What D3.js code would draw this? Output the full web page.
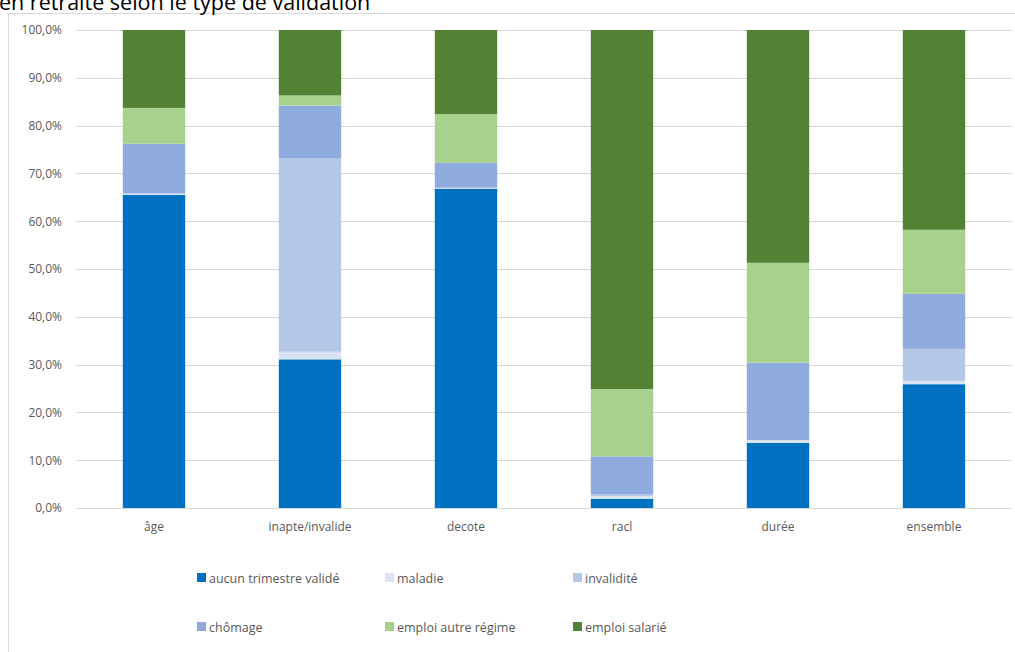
<!DOCTYPE html>
<html lang="fr">
  <head>
    <meta charset="UTF-8" />
    <title>Type de validation</title>
    <script src="https://d3js.org/d3.v7.min.js"></script>
    <style>
      body { margin: 0; background: #fff; }
      svg text { font-family: "Open Sans", "Noto Sans", sans-serif; }
    </style>
  </head>
  <body>
    <svg width="1015" height="652"></svg>
    <script>
      // categories and series (percent of each group)
      const categories = ["âge", "inapte/invalide", "decote", "racl", "durée", "ensemble"];
      const seriesNames = ["aucun trimestre validé", "maladie", "invalidité", "chômage", "emploi autre régime", "emploi salarié"];
      const aucun = [65.5, 31.1, 66.8, 1.9, 13.6, 25.9];
      const maladie = [0.3, 1.6, 0.2, 0.6, 0.6, 0.7];
      const invalidite = [0, 40.5, 0, 0.4, 0, 6.7];
      const chomage = [10.4, 11.0, 5.2, 7.9, 16.2, 11.5];
      const autreRegime = [7.5, 2.1, 10.2, 14.1, 20.9, 13.4];
      const salarie = [16.3, 13.7, 17.6, 75.1, 48.7, 41.8];
      const yTicks = [0, 10, 20, 30, 40, 50, 60, 70, 80, 90, 100];
      const colors = ["#0070C0", "#DAE3F3", "#B4C7E7", "#8FAADC", "#A9D18E", "#548235"];

      const seriesValues = [aucun, maladie, invalidite, chomage, autreRegime, salarie];
      const rows = categories.map((c, i) => {
        const r = { cat: c };
        seriesNames.forEach((s, j) => (r[s] = seriesValues[j][i]));
        return r;
      });

      const svg = d3.select("svg");

      // chart frame (only top and left edges show in the picture)
      svg.append("line").attr("x1", 8.5).attr("x2", 1015).attr("y1", 13.5).attr("y2", 13.5)
        .style("stroke", "#D9D9D9");
      svg.append("line").attr("x1", 8.5).attr("x2", 8.5).attr("y1", 13.5).attr("y2", 652)
        .style("stroke", "#D9D9D9");

      // title, cut off at the top of the picture like in the source
      svg.append("text")
        .attr("x", -1)
        .attr("y", 10)
        .style("font-size", "21.5px")
        .style("fill", "#000")
        .text("en retraite selon le type de validation");

      const x = d3.scaleBand().domain(categories).range([76, 1012]).paddingInner(0.6).paddingOuter(0.3);
      const y = d3.scaleLinear().domain([0, 100]).range([508, 30]);

      // gridlines
      svg.append("g")
        .selectAll("line")
        .data(yTicks)
        .enter()
        .append("line")
        .attr("x1", 76)
        .attr("x2", 1012)
        .attr("y1", (d) => Math.round(y(d)) + 0.5)
        .attr("y2", (d) => Math.round(y(d)) + 0.5)
        .style("stroke", "#D9D9D9")
        .style("stroke-width", 1);

      // y axis labels
      const yAxis = svg.append("g")
        .attr("transform", "translate(62,0)")
        .call(d3.axisLeft(y).tickValues(yTicks).tickSize(0).tickPadding(0)
          .tickFormat((d) => d3.format(".1f")(d).replace(".", ",") + "%"));
      yAxis.select(".domain").remove();
      yAxis.selectAll("text").style("font-size", "12px").style("fill", "#595959")
        .style("font-family", "'Open Sans', sans-serif");

      // stacked bars
      const stack = d3.stack().keys(seriesNames)(rows);
      svg.append("g")
        .selectAll("g")
        .data(stack)
        .enter()
        .append("g")
        .style("fill", (d, i) => colors[i])
        .selectAll("rect")
        .data((d) => d)
        .enter()
        .append("rect")
        .attr("x", (d) => x(d.data.cat))
        .attr("width", x.bandwidth())
        .attr("y", (d) => y(d[1]))
        .attr("height", (d) => y(d[0]) - y(d[1]));

      // x axis
      const xAxis = svg.append("g")
        .attr("transform", "translate(0,508)")
        .call(d3.axisBottom(x).tickSize(0).tickPadding(14));
      xAxis.select(".domain").remove();
      xAxis.selectAll("text").style("font-size", "12px").style("fill", "#595959")
        .style("font-family", "'Open Sans', sans-serif");

      // legend, two rows of three
      const legend = svg.append("g")
        .selectAll("g")
        .data(seriesNames)
        .enter()
        .append("g")
        .attr("transform", (d, i) => `translate(${197 + (i % 3) * 188},${573 + Math.floor(i / 3) * 49})`);
      legend.append("rect").attr("width", 9).attr("height", 9).style("fill", (d, i) => colors[i]);
      legend.append("text")
        .attr("x", 12)
        .attr("y", 9.5)
        .style("font-size", "12.5px")
        .style("fill", "#595959")
        .text((d) => d);
    </script>
  </body>
</html>
